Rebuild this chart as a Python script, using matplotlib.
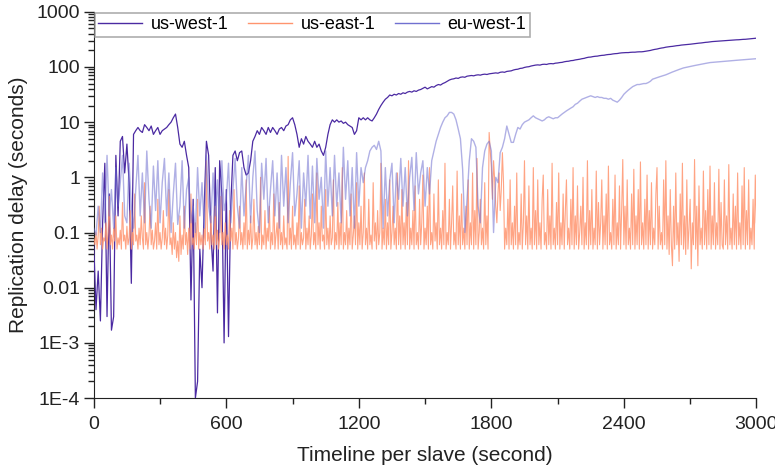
import numpy as np
import matplotlib
matplotlib.use('Agg')
import matplotlib.pyplot as plt
from matplotlib.ticker import FixedLocator, NullFormatter, LogLocator

plt.rcParams['font.family'] = ['Liberation Sans', 'DejaVu Sans']

# time axes (seconds)
t = np.arange(0, 3001, 10)       # us-west-1, eu-west-1 sampled every 10 s
t_east = np.arange(0, 3001, 5)   # us-east-1 sampled every 5 s

# us-west-1 replication delay (seconds)
us_west = [
    0.06, 0.004, 0.02, 0.0025, 0.15, 1.8, 0.003, 0.5, 0.0017, 0.003,
    2.5, 0.2, 4.5, 5.5, 1.2, 4, 0.8, 0.012, 6, 7,
    8, 7, 6.5, 9, 8, 7, 8.5, 6, 7, 8,
    6, 7, 7.5, 8, 9, 10, 12, 14, 8, 4,
    3.5, 4.5, 2.5, 1.5, 0.006, 0.4, 0.0001, 0.0002, 0.05, 0.01,
    0.3, 4.5, 2.5, 0.1, 0.02, 1.5, 0.0035, 2, 0.5, 0.001,
    0.6, 0.0013, 0.3, 2.5, 3, 2, 2.8, 3, 1.5, 1.1,
    1.2, 2, 4.5, 5.5, 7, 6, 8, 7, 6, 8,
    6.5, 8, 7, 6, 7.5, 8, 7, 8.5, 9, 11,
    12, 9, 6, 3.5, 5, 4, 5.5, 4.5, 4, 3.5,
    4.5, 3.5, 4, 3, 2.5, 3.5, 6, 9, 11, 10,
    11, 10, 10.5, 9.5, 10, 9, 8.5, 8, 6, 7,
    12, 11, 12, 11, 12, 11, 10.5, 12, 14, 17,
    20, 23, 26, 28, 31, 30, 32, 31, 33, 32,
    34, 33, 35, 36, 35, 37, 36, 38, 39, 41,
    43, 40, 42, 44, 43, 46, 48, 47, 50, 52,
    55, 58, 60, 61, 63, 62, 65, 66, 65, 68,
    69, 70, 69, 71, 72, 71, 73, 74, 73, 75,
    76, 77, 78, 77, 80, 81, 80, 83, 84, 85,
    88, 90, 91, 94, 95, 98, 100, 101, 104, 106,
    108, 109, 108, 111, 112, 111, 114, 115, 114, 117,
    118, 120, 121, 124, 126, 127, 130, 131, 134, 136,
    138, 141, 143, 147, 150, 151, 154, 156, 157, 160,
    162, 163, 166, 168, 169, 172, 174, 175, 178, 180,
    181, 182, 182, 184, 185, 185, 187, 188, 188, 190,
    193, 196, 199, 204, 208, 211, 216, 220, 223, 228,
    231, 234, 236, 240, 243, 245, 249, 251, 252, 255,
    258, 261, 263, 267, 270, 272, 276, 279, 281, 285,
    288, 290, 291, 294, 296, 297, 300, 302, 303, 306,
    308, 310, 311, 314, 316, 317, 320, 322, 326, 330,
    332,
]

# us-east-1 replication delay (seconds)
us_east = [
    0.08, 0.06, 0.1, 0.05, 0.09, 0.3, 0.06, 0.12, 0.05, 0.08,
    0.07, 0.15, 0.05, 0.1, 0.45, 0.06, 0.09, 0.05, 0.12, 0.07,
    0.2, 0.05, 0.08, 0.06, 0.11, 0.05, 0.35, 0.07, 0.09, 0.05,
    0.13, 0.06, 0.08, 0.25, 0.05, 0.1, 0.06, 0.5, 0.07, 0.09,
    0.05, 0.12, 0.06, 0.2, 0.08, 0.05, 0.8, 0.06, 0.1, 0.05,
    0.09, 0.3, 0.06, 0.11, 0.05, 0.07, 0.15, 0.05, 0.4, 0.06,
    0.1, 0.05, 0.08, 0.25, 0.06, 0.12, 0.05, 0.09, 0.6, 0.06,
    0.08, 0.04, 0.15, 0.05, 0.1, 0.035, 0.07, 0.03, 0.2, 0.04,
    0.09, 0.05, 0.3, 0.06, 0.1, 0.04, 0.12, 0.05, 0.5, 0.06,
    0.08, 0.05, 0.15, 0.06, 0.4, 0.05, 0.1, 0.06, 0.09, 0.05,
    0.12, 0.06, 2, 0.07, 0.1, 0.05, 0.2, 0.06, 0.09, 0.05,
    0.3, 0.06, 0.11, 0.05, 0.08, 0.45, 0.06, 0.1, 0.05, 0.15,
    0.06, 0.09, 0.05, 0.25, 0.07, 0.12, 0.05, 0.6, 0.06, 0.1,
    0.05, 0.08, 0.3, 0.06, 0.1, 0.05, 0.15, 0.06, 0.9, 0.05,
    0.11, 0.06, 0.2, 0.05, 0.08, 0.4, 0.06, 0.1, 0.05, 0.13,
    0.06, 1, 0.05, 0.09, 0.06, 0.25, 0.05, 0.12, 0.07, 0.3,
    0.05, 0.1, 0.06, 0.5, 0.05, 0.09, 0.15, 0.05, 0.35, 0.06,
    0.1, 0.05, 0.2, 0.06, 0.08, 0.05, 2.4, 0.06, 0.12, 0.05,
    0.3, 0.06, 0.09, 0.05, 0.15, 0.06, 0.7, 0.05, 0.1, 0.06,
    0.08, 0.4, 0.05, 0.12, 0.06, 0.2, 0.05, 0.09, 0.5, 0.06,
    0.1, 0.05, 1.2, 0.06, 0.15, 0.05, 0.3, 0.07, 0.09, 0.05,
    0.6, 0.06, 0.12, 0.05, 0.2, 0.06, 0.08, 0.9, 0.05, 0.1,
    0.06, 0.35, 0.05, 0.15, 0.06, 1.5, 0.05, 0.1, 0.06, 0.25,
    0.05, 0.12, 0.06, 0.5, 0.05, 0.09, 0.2, 0.06, 0.8, 0.05,
    0.15, 0.06, 0.3, 0.05, 0.1, 1.2, 0.06, 0.12, 0.05, 0.4,
    0.06, 0.09, 0.05, 0.8, 0.07, 0.15, 0.05, 0.25, 0.06, 0.1,
    1.8, 0.05, 0.12, 0.06, 0.4, 0.05, 0.15, 0.06, 0.9, 0.05,
    0.1, 0.3, 0.06, 0.12, 0.05, 1.2, 0.06, 0.2, 0.05, 0.6,
    0.06, 0.15, 0.05, 0.35, 0.06, 2, 0.05, 0.12, 0.06, 0.25,
    0.05, 0.7, 0.06, 0.1, 0.05, 0.4, 0.06, 0.15, 1.1, 0.05,
    0.12, 0.06, 0.3, 0.05, 1.5, 0.06, 0.1, 0.05, 0.5, 0.07,
    0.15, 0.05, 0.9, 0.06, 0.12, 0.05, 0.25, 0.06, 1.8, 0.05,
    0.1, 0.06, 0.4, 0.05, 0.15, 0.7, 0.06, 0.1, 0.05, 1.3,
    0.06, 0.2, 0.05, 0.5, 0.06, 0.12, 0.05, 0.3, 0.06, 0.9,
    0.05, 0.15, 0.06, 1.2, 0.05, 0.25, 0.06, 2.2, 0.05, 0.1,
    0.4, 0.06, 0.12, 0.05, 0.8, 0.06, 0.2, 0.05, 6.5, 3,
    1.5, 0.4, 2, 0.9, 0.3, 0.15, 0.5, 1.2, 0.25, 0.6,
    2.8, 0.8, 0.05, 0.12, 0.06, 0.4, 0.05, 0.9, 0.06, 0.15,
    0.05, 0.3, 0.06, 1.2, 0.05, 0.1, 0.06, 0.5, 0.05, 0.15,
    2, 0.06, 0.2, 0.05, 0.7, 0.06, 0.12, 0.05, 1.5, 0.06,
    0.25, 0.05, 0.9, 0.06, 0.15, 0.05, 0.4, 1.1, 0.06, 0.1,
    0.05, 0.6, 0.06, 0.2, 0.05, 1.8, 0.06, 0.12, 0.05, 0.35,
    0.06, 1.2, 0.05, 0.15, 0.06, 0.5, 0.05, 0.25, 0.9, 0.06,
    0.12, 0.05, 0.4, 0.06, 1.5, 0.05, 0.2, 0.06, 0.7, 0.05,
    0.1, 0.3, 0.06, 1, 0.05, 0.15, 0.06, 2, 0.05, 0.25,
    0.06, 0.6, 0.05, 0.12, 0.06, 1.3, 0.05, 0.35, 0.06, 0.15,
    0.9, 0.05, 0.2, 0.06, 0.5, 0.05, 1.6, 0.06, 0.1, 0.05,
    0.4, 0.06, 1.1, 0.05, 0.15, 0.06, 0.7, 0.05, 0.25, 2.1,
    0.06, 0.3, 0.05, 0.9, 0.06, 0.12, 0.05, 0.5, 0.06, 1.4,
    0.05, 0.2, 0.06, 0.6, 0.05, 1.9, 0.06, 0.15, 0.05, 0.4,
    0.06, 1.1, 0.05, 0.25, 0.06, 0.8, 0.05, 0.12, 0.06, 0.5,
    1.5, 0.05, 0.3, 0.06, 0.1, 0.05, 0.9, 0.06, 2, 0.05,
    0.2, 0.04, 0.6, 0.06, 0.025, 0.3, 0.05, 1.2, 0.06, 0.15,
    0.03, 0.5, 0.06, 1.8, 0.05, 0.2, 0.04, 0.9, 0.05, 0.12,
    0.4, 0.022, 0.15, 0.06, 2.1, 0.05, 0.3, 0.025, 0.7, 0.06,
    0.12, 0.05, 1.3, 0.06, 0.25, 0.05, 0.6, 0.06, 1.6, 0.05,
    0.2, 0.06, 0.8, 0.05, 0.15, 0.06, 1.4, 0.05, 0.35, 0.06,
    0.05, 0.9, 0.06, 0.2, 0.05, 1.7, 0.06, 0.12, 0.05, 0.5,
    0.06, 0.3, 0.05, 1.2, 0.06, 0.15, 0.05, 0.7, 0.06, 1.5,
    0.05, 0.25, 0.06, 0.9, 0.05, 0.12, 0.06, 0.4, 0.05, 1.1,
    0.15,
]

# eu-west-1 replication delay (seconds)
eu_west = [
    0.12, 0.09, 0.3, 0.1, 1.2, 0.15, 2.5, 0.2, 0.6, 0.12,
    1.5, 0.3, 0.8, 2.5, 0.2, 0.15, 1.8, 0.3, 0.12, 0.6,
    2.5, 0.2, 1.2, 0.15, 3, 0.4, 0.12, 1.6, 0.25, 2,
    0.15, 0.8, 2.2, 0.2, 1.2, 0.1, 0.5, 1.8, 0.14, 0.3,
    2, 0.12, 0.6, 1, 0.15, 0.3, 0.1, 1.5, 0.2, 0.8,
    0.12, 2.5, 0.3, 0.15, 1.2, 0.2, 0.9, 0.1, 2, 0.25,
    0.4, 1.8, 0.15, 0.6, 2.2, 0.3, 0.12, 1.5, 0.2, 0.7,
    2.5, 0.15, 1, 3, 0.25, 0.1, 1.8, 0.4, 2.2, 0.15,
    0.6, 2, 0.2, 1.2, 0.12, 2.5, 0.3, 1.5, 0.15, 0.8,
    2.8, 0.2, 0.5, 2, 0.12, 1.2, 0.3, 2.5, 0.18, 1.6,
    0.15, 2.2, 0.4, 1, 0.12, 3, 0.3, 1.5, 0.2, 2.5,
    0.3, 1.2, 0.15, 3.5, 0.4, 2, 0.2, 1.5, 0.12, 2.8,
    0.3, 1.5, 0.8, 1.5, 2, 3, 3.5, 3.8, 3.2, 4.5,
    3, 0.12, 1.5, 0.2, 0.9, 1.8, 0.15, 1.2, 0.4, 2.2,
    0.3, 1.5, 0.2, 1, 2.3, 0.25, 2.8, 0.5, 1.2, 2,
    0.3, 1.5, 0.5, 2, 3, 4.5, 6, 8, 10, 12,
    13, 15, 15, 14, 11, 7.5, 5, 1.4, 0.1, 0.4,
    2, 5, 4.5, 3.5, 0.3, 0.15, 1.5, 3, 4, 4.5,
    3, 0.1, 1, 0.8, 2.8, 3.5, 5, 8.5, 6, 4.3,
    4.3, 6, 8, 7.5, 9, 10, 10.5, 11, 12, 13,
    12, 11.5, 11, 10.5, 11, 12, 12.5, 12, 11.5, 12,
    12, 13, 14, 15, 16, 17, 18, 19, 21, 22,
    24, 26, 27, 28, 29, 30, 29, 28, 29, 28,
    28, 27, 27, 26, 27, 25, 24, 23, 25, 28,
    32, 35, 38, 41, 44, 46, 48, 48, 49, 50,
    50, 52, 55, 60, 62, 64, 66, 68, 70, 72,
    75, 78, 81, 84, 87, 90, 93, 96, 98, 100,
    102, 104, 106, 108, 110, 112, 114, 116, 118, 120,
    121, 122, 123, 124, 125, 126, 127, 128, 129, 130,
    131, 132, 133, 134, 135, 136, 137, 138, 139, 140,
    141,
]

fig = plt.figure(figsize=(7.75, 4.7), dpi=100)
ax = fig.add_axes([0.121, 0.153, 0.855, 0.822])

ax.plot(t, us_west, color='#4b2aa2', lw=0.9, label='us-west-1', zorder=3)
ax.plot(t_east, us_east, color='#ff946e', lw=0.8, alpha=0.85, label='us-east-1', zorder=4)
ax.plot(t, eu_west, color='#7070d0', lw=1.0, alpha=0.55, label='eu-west-1', zorder=5)

ax.set_yscale('log')
ax.set_xlim(0, 3000)
ax.set_ylim(1e-4, 1000)

ax.set_xticks([0, 600, 1200, 1800, 2400, 3000])
ax.xaxis.set_minor_locator(FixedLocator([300, 900, 1500, 2100, 2700]))
ax.set_yticks([1e-4, 1e-3, 1e-2, 1e-1, 1, 10, 100, 1000])
ax.set_yticklabels(['1E-4', '1E-3', '0.01', '0.1', '1', '10', '100', '1000'])
ax.yaxis.set_minor_locator(LogLocator(base=10, subs=np.arange(2, 10)))
ax.yaxis.set_minor_formatter(NullFormatter())

ax.tick_params(which='major', direction='out', length=7, width=1, labelsize=14, colors='#222222')
ax.tick_params(which='minor', direction='out', length=4, width=1, colors='#222222')
ax.tick_params(axis='x', which='major', pad=6)
ax.tick_params(axis='y', which='major', pad=3)
for side in ['top', 'right']:
    ax.spines[side].set_visible(False)
for side in ['left', 'bottom']:
    ax.spines[side].set_color('#222222')

ax.set_xlabel('Timeline per slave (second)', fontsize=15, labelpad=9, color='#222222')
ax.set_ylabel('Replication delay (seconds)', fontsize=15, labelpad=6, color='#222222')

leg = ax.legend(loc='upper left', ncol=3, fontsize=13, frameon=True, fancybox=False,
                borderaxespad=0.05, handlelength=2.4, columnspacing=1.1,
                borderpad=0.2, handletextpad=0.5)
leg.get_frame().set_edgecolor('#999999')
leg.get_frame().set_linewidth(1.2)
for line in leg.get_lines():
    line.set_alpha(1)
    line.set_linewidth(1)

fig.savefig('out.png', dpi=100, facecolor='white')
